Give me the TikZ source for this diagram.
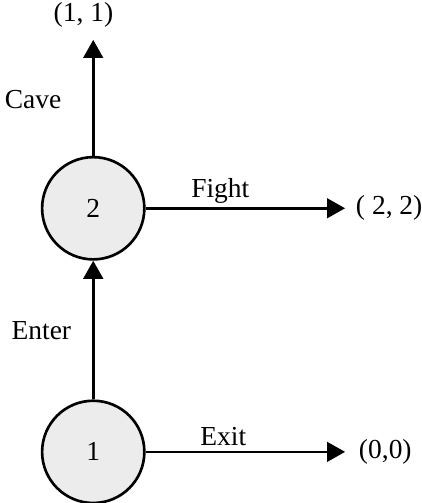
\documentclass[tikz,border=0pt]{standalone}
\usepackage{fontspec}
\setmainfont{Liberation Serif}
\usetikzlibrary{arrows.meta}
\begin{document}
\begin{tikzpicture}[>={Triangle[length=0.24cm, width=0.26cm]}, line width=1pt, font=\fontsize{10.4}{12}\selectfont]
	\useasboundingbox (0, 0) rectangle (5.60, 6.69);
	\node (N1) at (1.24, 0.68)	[circle, draw, fill = gray!15, minimum size = 1.36cm, inner sep = 0pt]	{1};
	\node (N2) at (1.24, 3.92)	[circle, draw, fill = gray!15, minimum size = 1.36cm, inner sep = 0pt]	{2};
	\coordinate (T0) at (4.59, 0.68);
	\coordinate (T2) at (4.59, 3.92);
	\coordinate (T1) at (1.24, 6.16);
	\node (P0) at (4.64, 0.68)	[anchor = west]	{(0,0)};
	\node (P2) at (4.60, 3.92)	[anchor = west]	{( 2, 2)};
	\node (P1) at (1.11, 6.49)	{(1, 1)};
	\node (Exit) at (2.97, 0.89)	{Exit};
	\node (Fight) at (2.93, 4.15)	{Fight};
	\node (Enter) at (0.55, 2.29)	{Enter};
	\node (Cave) at (0.44, 5.36)	{Cave};
	\draw[->] (N1) -- (N2);
	\draw[->] (N1) -- (T0);
	\draw[->] (N2) -- (T2);
	\draw[->] (N2) -- (T1);
\end{tikzpicture}
\end{document}
